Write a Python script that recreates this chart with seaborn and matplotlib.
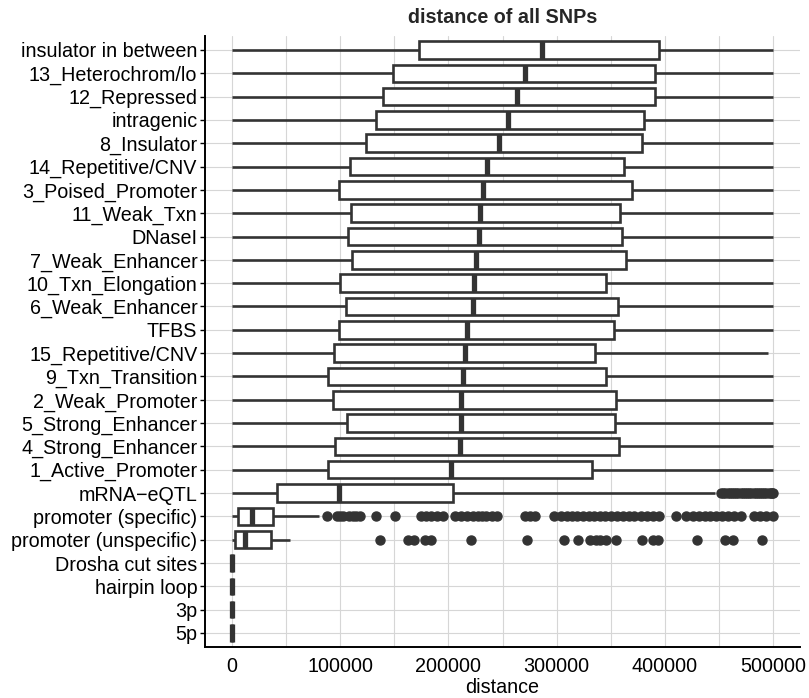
import matplotlib
matplotlib.use("Agg")
import matplotlib.pyplot as plt
from matplotlib.ticker import MultipleLocator, FixedLocator
import seaborn as sns
import pandas as pd

categories = ["insulator in between", "13_Heterochrom/lo", "12_Repressed", "intragenic",
              "8_Insulator", "14_Repetitive/CNV", "3_Poised_Promoter", "11_Weak_Txn",
              "DNaseI", "7_Weak_Enhancer", "10_Txn_Elongation", "6_Weak_Enhancer", "TFBS",
              "15_Repetitive/CNV", "9_Txn_Transition", "2_Weak_Promoter", "5_Strong_Enhancer",
              "4_Strong_Enhancer", "1_Active_Promoter", "mRNA\u2212eQTL", "promoter (specific)",
              "promoter (unspecific)", "Drosha cut sites", "hairpin loop", "3p", "5p"]

whisker_low = [0] * 22 + [0, 0, 0, 0]
q1 = [172800, 149100, 139800, 132800, 123500, 109400, 99200, 110300, 107200, 110600,
      99800, 105400, 99200, 94300, 89000, 93600, 106000, 95500, 89000, 41300,
      5800, 3100, 0, 0, 0, 0]
median = [286200, 271100, 263400, 255400, 247100, 235400, 232000, 229200, 228300, 225800,
          223300, 222400, 216900, 215600, 213800, 211900, 211600, 210700, 202400, 98900,
          18200, 12000, 0, 0, 0, 0]
q3 = [395000, 391000, 391000, 380500, 378600, 362300, 369400, 358600, 360700, 363800,
      345600, 357100, 353400, 335500, 345300, 354600, 354000, 357700, 333000, 204600,
      38200, 35800, 0, 0, 0, 0]
whisker_high = [500000] * 13 + [495000] + [500000] * 5 + [446000, 80000, 53600, 0, 0, 0, 0]

eqtl_outliers = [452000, 454000, 456000, 458000, 460000, 462000, 464000, 466000, 468000,
                 470000, 472000, 474000, 476000, 478000, 480000, 482000, 484000, 486000,
                 488000, 490000, 492000, 494000, 496000, 498000, 499000, 500000]
specific_outliers = [88000, 97000, 100000, 103000, 108000, 112000, 115000, 118000, 133000,
                     151000, 175000, 179000, 184000, 189000, 195000, 206000, 212000, 217000,
                     223000, 227000, 231000, 235000, 240000, 245000, 271000, 275000, 280000,
                     298000, 304000, 310000, 314000, 319000, 324000, 330000, 335000, 340000,
                     345000, 350000, 356000, 361000, 367000, 372000, 378000, 384000, 389000,
                     395000, 410000, 420000, 426000, 432000, 437000, 442000, 447000, 453000,
                     458000, 464000, 470000, 482000, 488000, 494000, 500000]
unspecific_outliers = [137000, 163000, 168000, 178000, 184000, 221000, 273000, 307000,
                       320000, 331000, 336000, 340000, 346000, 355000, 379000, 389000,
                       394000, 430000, 456000, 463000, 490000]
outliers = {"mRNA\u2212eQTL": eqtl_outliers,
            "promoter (specific)": specific_outliers,
            "promoter (unspecific)": unspecific_outliers}

# build a long table whose box statistics reproduce the values above
REP = 200
rows = []
for cat, lo, a, m, b, hi in zip(categories, whisker_low, q1, median, q3, whisker_high):
    vals = [lo] + [a] * REP + [m] * REP + [b] * REP + [hi] + outliers.get(cat, [])
    rows += [(cat, v) for v in vals]
df = pd.DataFrame(rows, columns=["category", "distance"])

sns.set_style("whitegrid")
plt.rcParams["font.family"] = ["Liberation Sans", "DejaVu Sans"]

fig = plt.figure(figsize=(8.09, 6.98), dpi=100)
ax = fig.add_axes([0.2534, 0.0731, 0.7355, 0.8754])

dark = "#333333"
sns.boxplot(data=df, x="distance", y="category", order=categories, orient="h",
            width=0.75, color="white", saturation=1, linecolor=dark, linewidth=1.9,
            showcaps=False, fliersize=6.5, ax=ax,
            medianprops=dict(linewidth=3.8, color=dark),
            flierprops=dict(marker="o", markerfacecolor=dark, markeredgecolor=dark,
                            markersize=6.5))

ax.set_xlim(-25000, 525000)
ax.set_ylim(len(categories) - 0.4, -0.6)
ax.xaxis.set_major_locator(FixedLocator([0, 100000, 200000, 300000, 400000, 500000]))
ax.xaxis.set_minor_locator(MultipleLocator(50000))
ax.set_xticklabels(["0", "100000", "200000", "300000", "400000", "500000"])
ax.grid(which="major", axis="both", color="#d6d6d6", linewidth=0.8)
ax.grid(which="minor", axis="x", color="#d6d6d6", linewidth=0.8)
ax.set_axisbelow(True)

for s in ["top", "right"]:
    ax.spines[s].set_visible(False)
for s in ["left", "bottom"]:
    ax.spines[s].set_visible(True)
    ax.spines[s].set_color("black")
    ax.spines[s].set_linewidth(1.4)

ax.tick_params(axis="x", which="both", length=0, pad=7, labelsize=14.2, labelcolor="black")
ax.tick_params(axis="y", which="major", length=3.5, width=1.0, color="black", pad=2,
               labelsize=14.2, labelcolor="black", left=True)
ax.set_xlabel("distance", fontsize=14.2, labelpad=2, color="black")
ax.set_ylabel("")
ax.set_title("distance of all SNPs", fontsize=14.2, fontweight="bold", pad=9)

fig.savefig("out.png", dpi=100)
